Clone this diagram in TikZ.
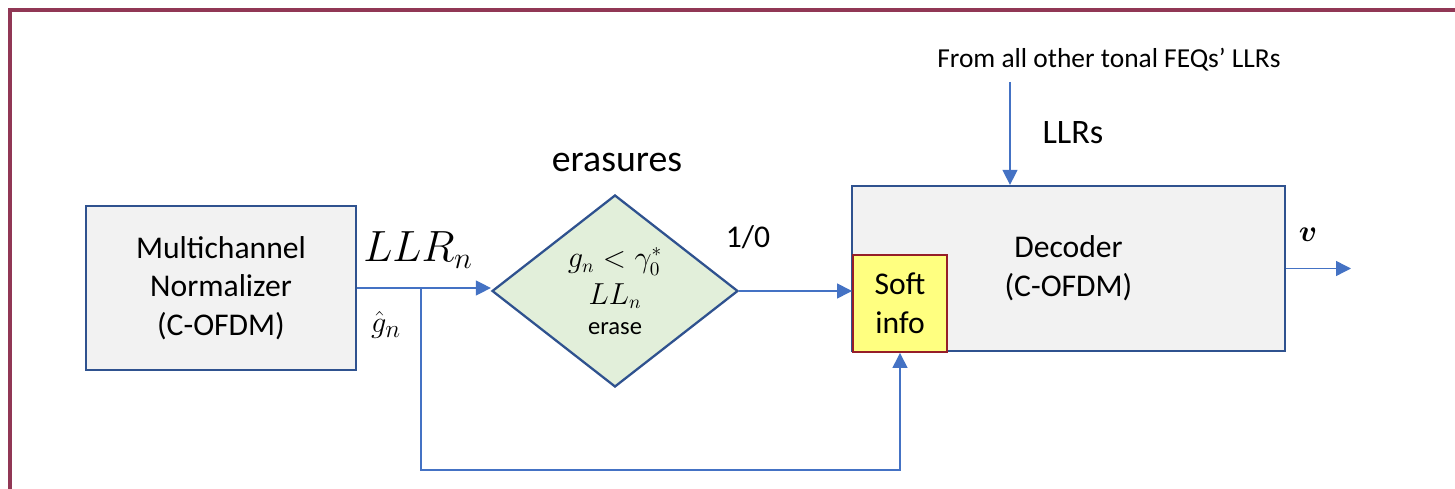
\documentclass[tikz,border=0pt]{standalone}
\usepackage{amsmath}
\usepackage{fontspec}
\setmainfont{Carlito}
\usetikzlibrary{arrows.meta,calc,shapes.geometric}
\definecolor{framered}{RGB}{145,55,85}
\definecolor{boxblue}{RGB}{47,82,143}
\definecolor{linkblue}{RGB}{68,114,196}
\definecolor{boxgray}{RGB}{242,242,242}
\definecolor{testgreen}{RGB}{226,239,218}
\definecolor{softyellow}{RGB}{255,255,128}
\definecolor{softred}{RGB}{150,30,40}
\tikzset{
 frame/.style={draw=framered,line width=1.8pt},
 block/.style={draw=boxblue,fill=boxgray,line width=1.3pt,align=center,inner sep=0,font=\fontsize{18}{22}\selectfont},
 test/.style={diamond,draw=boxblue,fill=testgreen,line width=1.3pt,inner sep=0,aspect=1.28,align=center,font=\fontsize{14}{17}\selectfont},
 softbox/.style={draw=softred,fill=softyellow,line width=1.1pt,align=center,inner sep=0,font=\fontsize{18}{22}\selectfont},
 link/.style={draw=linkblue,line width=.8pt},
 linkarrow/.style={link,-{Triangle[length=.3cm,width=.3cm]}},
 lbl/.style={inner sep=0,font=\fontsize{18}{22}\selectfont}
}
\begin{document}
\begin{tikzpicture}[x=.02cm,y=-.02cm]
\path[use as bounding box] (0,0) rectangle (1455,489);
\draw[frame] (10,489) -- (10,10) -- (1455,10);
% blocks
\node[block,minimum width=5.4cm,minimum height=3.28cm] (norm) at (221,288) {Multichannel\\Normalizer\\(C-OFDM)};
\node[test,minimum width=4.92cm,minimum height=3.84cm] (erase) at (615,291)
 {{\fontsize{16}{18}\selectfont$g_n < \gamma_0^{*}$}\\[4pt]{\fontsize{16}{18}\selectfont$LL_n$}\\[0pt]erase};
\node[block,minimum width=8.66cm,minimum height=3.3cm] (dec) at (1068.5,268.5) {Decoder\\(C-OFDM)};
\node[softbox,minimum width=1.88cm,minimum height=1.94cm] (soft) at (900,303.5) {Soft\\info};
% labels
\node[lbl,font=\fontsize{25}{30}\selectfont] (llr) at (418,250) {$LLR_n$};
\node[lbl,font=\fontsize{19}{23}\selectfont] (ghat) at (386,325) {$\hat{g}_n$};
\node[lbl,font=\fontsize{21.5}{26}\selectfont] (erasures) at (617,162) {erasures};
\node[lbl] (onezero) at (748,237) {1/0};
\node[lbl,font=\fontsize{16}{20}\selectfont] (vout) at (1308,235) {$\boldsymbol{v}$};
\node[lbl,font=\fontsize{19.5}{24}\selectfont] (llrs) at (1073,133) {LLRs};
\node[lbl,font=\fontsize{15.6}{19}\selectfont] (feqs) at (1109,60) {From all other tonal FEQs’ LLRs};
% connectors
\coordinate (split) at (421,288);
\coordinate (loop) at (421,470);
\coordinate (feqin) at (1010,82);
\coordinate (out) at (1351,268.5);
\draw[linkarrow] (norm.east) -- (norm.east -| erase.west);
\draw[linkarrow] (split) -- (loop) -| (soft.south);
\draw[linkarrow] (erase.east) -- (erase.east -| soft.west);
\draw[linkarrow] (feqin) -- (feqin |- dec.north);
\draw[linkarrow] (dec.east) -- (out);
\end{tikzpicture}
\end{document}
